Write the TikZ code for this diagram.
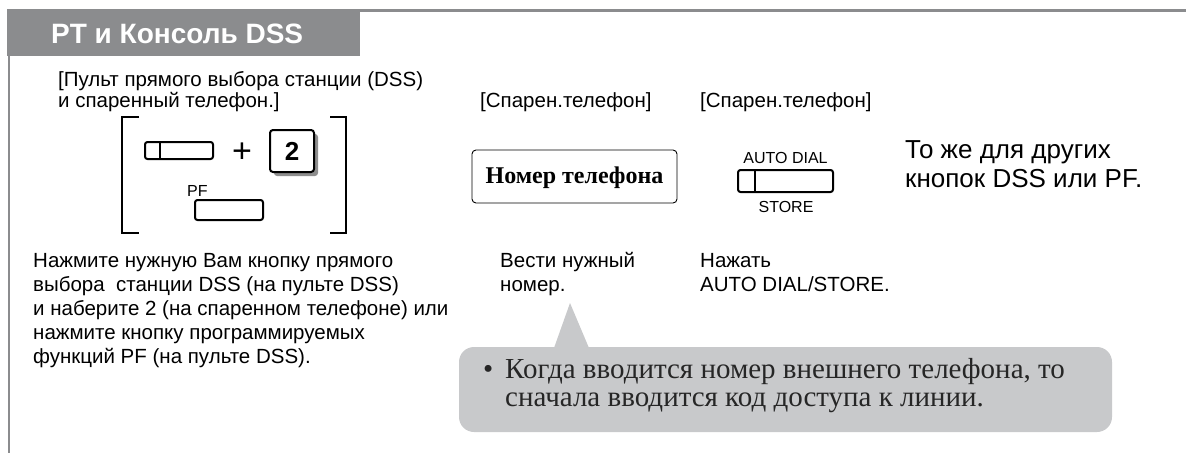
\documentclass[tikz,border=0pt]{standalone}
\usepackage{fontspec}
\setmainfont{Liberation Sans}
\newfontfamily\serifrm{Liberation Serif}
\definecolor{hdr}{HTML}{8B8C8E}
\definecolor{callgray}{HTML}{C8C9CB}
\definecolor{shadowgray}{HTML}{8E8E8E}
\begin{document}
\begin{tikzpicture}[x=1pt,y=-1pt,
  txt/.style={anchor=base west,inner sep=0,font=\fontsize{20.5}{24}\selectfont},
  bigtxt/.style={anchor=base west,inner sep=0,font=\fontsize{26}{30}\selectfont},
  sertxt/.style={anchor=base west,inner sep=0,font=\serifrm\fontsize{29}{30}\selectfont,text=black!85},
  btn/.style={draw,line width=2pt,rounded corners=2.5pt},
  brk/.style={line width=1.3pt},
  lbl/.style={inner sep=0,anchor=base,font=\fontsize{16}{18}\selectfont}]
\useasboundingbox (0,0) rectangle (1186,453);
% frame
\fill[hdr] (7,9) rectangle (360,56);
\fill[hdr] (360,9) rectangle (1186,11.5);
\fill[hdr] (7.5,56) rectangle (10,453);
\node[anchor=base west,inner sep=0,text=white,font=\fontsize{28}{30}\selectfont\bfseries] (title) at (51,43) {PT и Консоль DSS};
% step 1
\node[txt] (t1) at (58,86) {[Пульт прямого выбора станции (DSS)};
\node[txt] (t2) at (58,107) {и спаренный телефон.]};
\draw[brk] (139,117) -- (122,117) -- (122,233) -- (139,233);
\draw[brk] (330,117) -- (346,117) -- (346,233) -- (330,233);
\draw[btn] (145,142) rectangle (213,159);
\draw[line width=1.5pt] (160,142) -- (160,159);
\node[inner sep=0,font=\fontsize{34}{34}\selectfont] (plus) at (242,153) {+};
\fill[shadowgray,rounded corners=3pt] (274,134) rectangle (318,176);
\draw[btn,fill=white,rounded corners=3pt] (270,130) rectangle (314,172);
\node[inner sep=0,font=\bfseries\fontsize{26}{26}\selectfont] (two) at (292,151) {2};
\node[lbl,anchor=base west] (pf) at (187,196) {PF};
\draw[btn] (195,200) rectangle (263,220);
\node[txt] (a1) at (33,267) {Нажмите нужную Вам кнопку прямого};
\node[txt] (a2) at (33,291) {выбора\ \ станции DSS (на пульте DSS)};
\node[txt] (a3) at (33,315) {и наберите 2 (на спаренном телефоне) или};
\node[txt] (a4) at (33,339) {нажмите кнопку программируемых};
\node[txt] (a5) at (33,363) {функций PF (на пульте DSS).};
% step 2
\node[txt] (s2) at (480,107) {[Спарен.телефон]};
\draw[line width=0.9pt,rounded corners=4pt] (472,150) rectangle (677,203);
\node[inner sep=0,anchor=base,font=\serifrm\bfseries\fontsize{24}{24}\selectfont] (num) at (574.5,183) {Номер телефона};
\node[txt] (b1) at (500,267) {Вести нужный};
\node[txt] (b2) at (500,291) {номер.};
% step 3
\node[txt] (s3) at (700,107) {[Спарен.телефон]};
\node[lbl] (ad) at (785.5,163) {AUTO DIAL};
\draw[btn] (738,170) rectangle (833,192);
\draw[line width=1.5pt] (755,170) -- (755,192);
\node[lbl] (st) at (786,212) {STORE};
\node[txt] (c1) at (700,267) {Нажать};
\node[txt] (c2) at (700,291) {AUTO DIAL/STORE.};
% step 4
\node[bigtxt] (d1) at (905,158) {То же для других};
\node[bigtxt] (d2) at (905,187) {кнопок DSS или PF.};
% callout
\fill[callgray,rounded corners=15pt] (459,347) rectangle (1112,432);
\fill[callgray] (554,348) -- (570,303) -- (589,348) -- cycle;
\node[sertxt] (bul) at (483,378) {•};
\node[sertxt] (n1) at (505,378) {Когда вводится номер внешнего телефона, то};
\node[sertxt] (n2) at (505,406) {сначала вводится код доступа к линии.};
\end{tikzpicture}
\end{document}
